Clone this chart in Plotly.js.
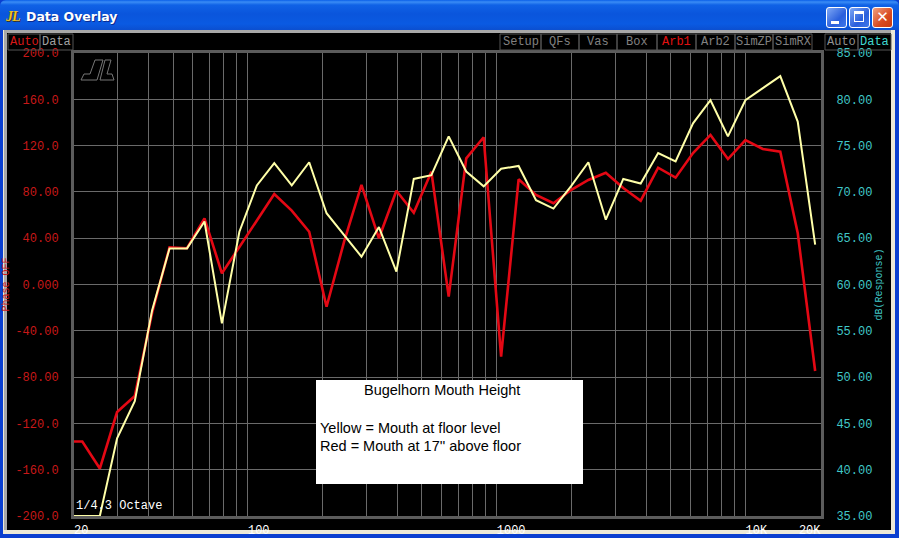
<!DOCTYPE html>
<html><head><meta charset="utf-8">
<script src="https://cdn.plot.ly/plotly-3.0.1.min.js"></script>
<style>
html,body{margin:0;padding:0;width:899px;height:538px;overflow:hidden;background:#000}
#win{position:absolute;left:0;top:0;width:899px;height:538px;background:#0a3fd0}
#bar{position:absolute;left:0;top:0;width:899px;height:30px;border-radius:6px 6px 0 0;
background:linear-gradient(#0a5fe8 0,#3a8cf5 2px,#0f62e6 5px,#0a55dc 14px,#0a5ae2 24px,#0b4fd0 30px)}
#ttl{position:absolute;left:26px;top:9px;color:#fff;font:bold 12.5px "DejaVu Sans",sans-serif;text-shadow:1px 1px 0 #0a2a90}
#ico{position:absolute;left:6px;top:9px;color:#f0c020;font:italic bold 14px "Liberation Serif",serif;letter-spacing:-1px;text-shadow:1px 1px 0 #333}
.b{position:absolute;top:7px;width:19px;height:19px;border:1px solid #fff;border-radius:3px;background:linear-gradient(135deg,#7fa8f5,#2a5fdc 60%,#3f78ea)}
.b.x{background:linear-gradient(135deg,#f0a080,#d84a20 60%,#c83a10)}
#in1{position:absolute;left:3px;top:30px;width:892px;height:504px;background:#ece9d8}
#in2{position:absolute;left:4px;top:30px;width:887px;height:500px;background:#a8a8a8}
#in3{position:absolute;left:7px;top:33px;width:884px;height:497px;background:#000}
#plot{position:absolute;left:0;top:0;width:899px;height:538px}
</style></head><body>
<div id="win"><div id="bar"><div id="ico">JL</div><div id="ttl">Data Overlay</div>
<div class="b" style="left:826px"><div style="position:absolute;left:4px;top:13px;width:8px;height:3px;background:#fff"></div></div>
<div class="b" style="left:849px"><div style="position:absolute;left:4px;top:3px;width:10px;height:11px;border:1px solid #fff;border-top-width:3px;box-sizing:border-box"></div></div>
<div class="b x" style="left:872px;color:#fff;font:bold 15px 'DejaVu Sans';text-align:center;line-height:19px">✕</div>
</div><div id="in1"></div><div id="in2"></div><div id="in3"></div></div>
<div id="plot"></div>
<script>
const freqs=[20,21.6,25.4,29.8,35.1,41.2,48.4,56.9,66.9,78.6,92.4,108.6,127.6,150,176.3,207,243.5,286,336,395,464,546,641,754,886,1041,1224,1438,1690,1986,2334,2743,3224,3788,4452,5232,6149,7226,8492,9980,11728,13783,16198,19036];
const phaseRed=[-135.6,-135.6,-159,-110.2,-96.3,-24.6,32.1,31.3,57.2,9.7,32.4,55.7,78.2,63.8,45.6,-19.2,37,86,39.9,81,62,97.5,-10.5,109,127.2,-62.4,90.9,77.3,70.2,81.6,90.3,96.6,83.4,72.4,100.9,92.3,113.6,129.2,108.4,124.8,117.1,114.7,44.5,-74.7];
const dbYellow=[35,35,35,43.4,47.4,57.2,63.9,63.9,66.8,55.8,65.7,70.7,73.1,70.7,73.2,67.7,65.3,63,66.2,61.4,71.4,71.8,76,72.2,70.6,72.5,72.8,69.1,68.2,70.6,73.2,67,71.4,70.9,74.2,73.3,77.4,79.9,76,79.9,81.2,82.5,77.6,64.3];
const xGrid=[20,30,40,50,60,70,80,90,100,200,300,400,500,600,700,800,900,1000,2000,3000,4000,5000,6000,7000,8000,9000,10000,20000];
const xTickVals=[20,100,1000,10000,20000];
const xTickText=['\u00a0\u00a020','\u00a0\u00a0\u00a0100','\u00a0\u00a0\u00a0\u00a01000','\u00a0\u00a0\u00a010K','20K\u00a0\u00a0\u00a0'];
const phaseTicks=[200,160,120,80,40,0,-40,-80,-120,-160,-200];
const phaseText=['200.0','160.0','120.0','80.00','40.00','0.000','-40.00','-80.00','-120.0','-160.0','-200.0'];
const dbTicks=[85,80,75,70,65,60,55,50,45,40,35];
const dbText=['85.00','80.00','75.00','70.00','65.00','60.00','55.00','50.00','45.00','40.00','35.00'];
const topLeft=[['Auto',8,40,'#d81818'],['Data',40,73,'#a0a0a0']];
const topRight=[['Setup',500,541,'#808080'],['QFs',541,579,'#808080'],['Vas',579,617,'#808080'],['Box',617,657,'#808080'],['Arb1',657,696,'#e01010'],['Arb2',696,735,'#808080'],['SimZP',735,773,'#808080'],['SimRX',773,812,'#808080'],['Auto',825,858,'#909090'],['Data',858,891,'#40d8d0']];

const L=74,R=821,T=53,B=516;
const px=x=>(x-L)/(R-L), py=y=>(B-y)/(B-T);
const MONO='"Liberation Mono",monospace';
const GRID='#6a6a6a', FRAME='#5c5c5c';
const shapes=[],ann=[];
function rect(x0,y0,x1,y1,fill,line,layer,lw){shapes.push({type:'rect',xref:'paper',yref:'paper',x0:px(x0),x1:px(x1),y0:py(y0),y1:py(y1),fillcolor:fill,line:{color:line||fill,width:lw===undefined?1:lw},layer:layer||'above'});}
function label(x,y,t,color,anchor,size,font,extra){ann.push(Object.assign({xref:'paper',yref:'paper',x:px(x),y:py(y),text:t,showarrow:false,xanchor:anchor||'center',yanchor:'middle',font:{family:font||MONO,size:size||12,color:color},borderpad:0,borderwidth:0},extra||{}));}
topLeft.concat(topRight).forEach(b=>{rect(b[1],34,b[2],50,'rgba(0,0,0,0)','#555555');label((b[1]+b[2])/2,42,b[0],b[3]);});
// logo
rect(76,55,119,84,'#000','#000','below',0);
const poly=p=>'M'+p.map(q=>px(q[0])+','+py(q[1])).join(' L')+' Z';
shapes.push({type:'path',xref:'paper',yref:'paper',layer:'above',path:poly([[81,80],[84,74],[90,74],[95,60],[103,60],[97,80]]),line:{color:'#777',width:1},fillcolor:'rgba(0,0,0,0)'});
shapes.push({type:'path',xref:'paper',yref:'paper',layer:'above',path:poly([[105,60],[111,60],[107,74],[112,74],[114,80],[100,80]]),line:{color:'#777',width:1},fillcolor:'rgba(0,0,0,0)'});
// note box
rect(316,380,583,484,'#ffffff','#ffffff','above',0);
const SANS='"Liberation Sans",Arial,sans-serif';
label(441.5,390,'Bugelhorn Mouth Height','#000','center',14.5,SANS);
label(320,428,'Yellow = Mouth at floor level','#000','left',14.5,SANS);
label(320,446,"Red = Mouth at 17'' above floor",'#000','left',14.5,SANS);
label(76,506,'1/4.3 Octave','#fff','left',12);

const gridCommon={showgrid:true,gridcolor:GRID,gridwidth:1,zeroline:false,showline:true,linecolor:FRAME,linewidth:3,ticks:'outside',tickcolor:'rgba(0,0,0,0)'};
const layout={width:899,height:538,margin:{l:L,r:899-R,t:T,b:538-B,pad:0},paper_bgcolor:'rgba(0,0,0,0)',plot_bgcolor:'#000',showlegend:false,
 xaxis:Object.assign({},gridCommon,{type:'log',range:[Math.log10(20),Math.log10(20000)+0.002],tickmode:'array',tickvals:xGrid,ticktext:xGrid.map(v=>{const i=xTickVals.indexOf(v);return i<0?'':xTickText[i];}),ticklen:1,tickfont:{family:MONO,size:12,color:'#ffffff'},mirror:true,fixedrange:true}),
 yaxis:Object.assign({},gridCommon,{range:[-200,200],tickmode:'array',tickvals:phaseTicks,ticktext:phaseText,ticklen:10,tickfont:{family:MONO,size:12,color:'#c81818'},title:{text:'Phase OFF',font:{family:MONO,size:10,color:'#d01818'},standoff:4},mirror:true}),
 yaxis2:Object.assign({},gridCommon,{overlaying:'y',side:'right',range:[35,85],showgrid:false,tickmode:'array',tickvals:dbTicks,ticktext:dbText,ticklen:10,tickfont:{family:MONO,size:12,color:'#40c8c8'},title:{text:'dB(Response)',font:{family:MONO,size:10,color:'#40c8c8'},standoff:4}}),
 shapes:shapes,annotations:ann};
const data=[
 {x:freqs,y:phaseRed,yaxis:'y',mode:'lines',cliponaxis:false,line:{color:'#e40814',width:2.6},hoverinfo:'skip',name:'Mouth at 17" above floor'},
 {x:freqs,y:dbYellow,yaxis:'y2',mode:'lines',cliponaxis:false,line:{color:'#ffffa8',width:2},hoverinfo:'skip',name:'Mouth at floor level'}
];
Plotly.newPlot('plot',data,layout,{displayModeBar:false,staticPlot:true});
</script></body></html>
